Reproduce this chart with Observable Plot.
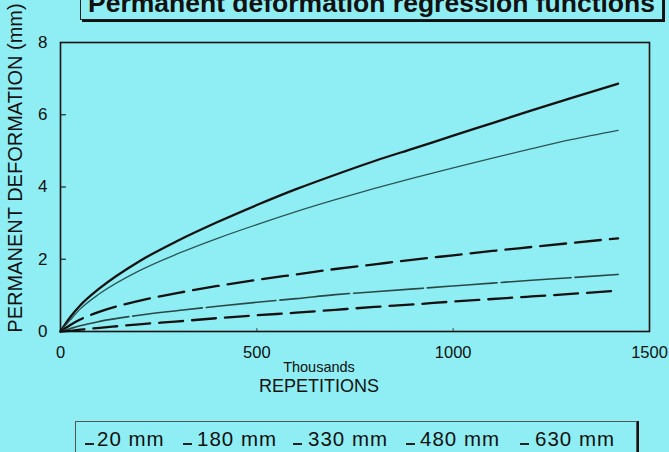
<!DOCTYPE html>
<html>
<head>
<meta charset="utf-8">
<script src="https://cdn.jsdelivr.net/npm/d3@7"></script>
<script src="https://cdn.jsdelivr.net/npm/@observablehq/plot@0.6"></script>
<style>
html, body { margin: 0; padding: 0; background: #8eeef3; }
#wrap { position: relative; width: 669px; height: 452px; overflow: hidden; background: #8eeef3;
  font-family: "Liberation Sans", Arial, Helvetica, sans-serif; color: #111; }
#chart { position: absolute; left: 0; top: 0; }
#title { position: absolute; left: 80px; top: -30px; width: 583px; height: 50px; box-sizing: border-box;
  border: 1px solid #222; box-shadow: 2px 2px 0 #111; display: flex; align-items: flex-end;
  justify-content: center; padding-bottom: 3px; }
#title span { font-weight: bold; font-size: 26.5px; line-height: 1; white-space: nowrap; }
#legend { position: absolute; left: 75px; top: 421px; width: 562px; height: 50px; box-sizing: border-box;
  border: 1px solid #555; box-shadow: 2px 0 0 #111; }
.lg-text { position: absolute; top: 429px; font-size: 20.5px; line-height: 1; letter-spacing: 1px; white-space: nowrap; }
.lg-mark { position: absolute; top: 443px; width: 9px; height: 2px; background: #222; }
</style>
</head>
<body>
<div id="wrap">
  <div id="chart"></div>
  <div id="title"><span>Permanent deformation regression functions</span></div>
  <div id="legend"></div>
</div>
<script>
// Repetitions (thousands)
const repetitions = [0, 25, 50, 100, 200, 300, 400, 500, 600, 700, 800, 900, 1000, 1100, 1200, 1300, 1420];
// Permanent deformation (mm) per layer depth
const def20  = [0, 0.40, 0.72, 1.20, 1.94, 2.52, 3.03, 3.50, 3.94, 4.34, 4.72, 5.07, 5.42, 5.77, 6.12, 6.46, 6.86];
const def180 = [0, 0.32, 0.62, 1.05, 1.68, 2.16, 2.58, 2.96, 3.32, 3.65, 3.96, 4.25, 4.53, 4.80, 5.06, 5.31, 5.57];
const def330 = [0, 0.18, 0.33, 0.55, 0.85, 1.07, 1.26, 1.43, 1.58, 1.73, 1.86, 1.99, 2.11, 2.23, 2.34, 2.45, 2.58];
const def480 = [0, 0.08, 0.16, 0.28, 0.45, 0.58, 0.70, 0.81, 0.91, 1.02, 1.10, 1.18, 1.26, 1.34, 1.42, 1.49, 1.58];
const def630 = [0, 0.02, 0.05, 0.10, 0.20, 0.28, 0.37, 0.45, 0.52, 0.60, 0.68, 0.75, 0.83, 0.90, 0.97, 1.04, 1.13];

const seriesNames = ["20 mm", "180 mm", "330 mm", "480 mm", "630 mm"];
const seriesValues = [def20, def180, def330, def480, def630];
const xTicks = [0, 500, 1000, 1500];
const yTicks = [0, 2, 4, 6, 8];
const innerYTicks = [2, 4, 6];
const innerXTicks = [500, 1000];

const seriesStyles = [
  {stroke: "#111", strokeWidth: 2.3},
  {stroke: "#2c5656", strokeWidth: 1.3},
  {stroke: "#111", strokeWidth: 2.3, strokeDasharray: "26,9"},
  {stroke: "#2b4747", strokeWidth: 1.6, strokeDasharray: "70,4"},
  {stroke: "#111", strokeWidth: 2.3, strokeDasharray: "24,9"}
];

const lineMarks = seriesNames.map((name, s) => {
  const rows = repetitions.map((r, i) => ({reps: r, def: seriesValues[s][i], series: name}));
  return Plot.line(rows, {x: "reps", y: "def", curve: "monotone-x", ...seriesStyles[s]});
});

const chart = Plot.plot({
  width: 669,
  height: 415,
  marginLeft: 60,
  marginRight: 20,
  marginTop: 42,
  marginBottom: 84,
  x: {domain: [0, 1500]},
  y: {domain: [0, 8]},
  style: {background: "transparent", fontFamily: "'Liberation Sans', Arial, Helvetica, sans-serif", color: "#111", overflow: "visible"},
  marks: [
    ...lineMarks,
    Plot.frame({stroke: "#111", strokeWidth: 1.6}),
    Plot.ruleY(innerYTicks, {x1: 0, x2: 15, stroke: "#222", strokeWidth: 1.2}),
    Plot.ruleX(innerXTicks, {y1: 0, y2: 0.08, stroke: "#444", strokeWidth: 1}),
    Plot.axisY({ticks: yTicks, tickSize: 0, tickPadding: 13, fontSize: 17, tickFormat: d => String(d), label: null}),
    Plot.axisX({ticks: xTicks, tickSize: 0, tickPadding: 15, fontSize: 16.5, tickFormat: d => String(d), label: null}),
    Plot.text(["PERMANENT DEFORMATION (mm)"], {text: d => d, frameAnchor: "left", textAnchor: "middle", rotate: -90, dx: -45, dy: -19, fontSize: 20}),
    Plot.text(["Thousands"], {text: d => d, frameAnchor: "bottom", dx: -36, dy: 40, fontSize: 14.5}),
    Plot.text(["REPETITIONS"], {text: d => d, frameAnchor: "bottom", dx: -36, dy: 60, fontSize: 18})
  ]
});
document.getElementById("chart").appendChild(chart);

// Legend
const legendTextX = [97, 197, 308, 420, 535];
const legendMarkX = [85, 183, 293, 406, 520];
const wrap = document.getElementById("wrap");
seriesNames.forEach((name, i) => {
  const m = document.createElement("div");
  m.className = "lg-mark";
  m.style.left = legendMarkX[i] + "px";
  wrap.appendChild(m);
  const t = document.createElement("div");
  t.className = "lg-text";
  t.style.left = legendTextX[i] + "px";
  t.textContent = name;
  wrap.appendChild(t);
});
</script>
</body>
</html>
